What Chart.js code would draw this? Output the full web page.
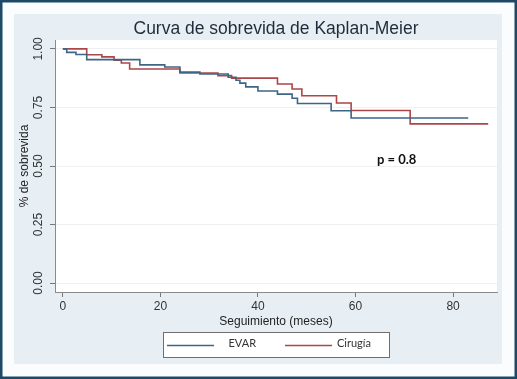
<!DOCTYPE html>
<html>
<head>
<meta charset="utf-8">
<script src="https://cdn.jsdelivr.net/npm/chart.js@4.4.1/dist/chart.umd.min.js"></script>
<style>
  html, body { margin: 0; padding: 0; background: #fff; }
</style>
</head>
<body>
<canvas id="km" width="517" height="379"></canvas>
<script>
// Kaplan-Meier steps (time in months, survival fraction)
const evarTimes = [0, 0.8, 2.7, 4.9, 15.8, 20.9, 24, 28.1, 33.9, 35.5, 36.3, 37.5, 40, 44, 47, 48.1, 55, 59.1, 83.1];
const evarSurv  = [1, 0.985, 0.976, 0.954, 0.932, 0.923, 0.901, 0.893, 0.879, 0.866, 0.854, 0.838, 0.82, 0.807, 0.789, 0.767, 0.736, 0.705, 0.705];

const cirugiaTimes = [0, 4.9, 8, 10.5, 12, 13.7, 24, 31.8, 34.6, 44, 47, 49, 56.1, 59.1, 71.2, 87.2];
const cirugiaSurv  = [1, 0.975, 0.966, 0.952, 0.94, 0.914, 0.897, 0.886, 0.875, 0.85, 0.829, 0.8, 0.769, 0.737, 0.68, 0.68];

const seriesNames = ['EVAR', 'Cirugía'];
const seriesColors = ['#3e6586', '#ab4649'];

const xTickValues = [0, 20, 40, 60, 80];
const yTickValues = [0, 0.25, 0.5, 0.75, 1];

const pLabel = { x: 64.4, y: 0.51, text: 'p = 0.8' };

const toPoints = (times, surv) => times.map((t, i) => ({ x: t, y: surv[i] }));

// panel / frame behind the plot, stata style
const backdrop = {
  id: 'backdrop',
  beforeDraw(chart) {
    const { ctx, chartArea: ca, width, height } = chart;
    ctx.save();
    ctx.fillStyle = '#fbfcfd';
    ctx.fillRect(0, 0, width, height);
    ctx.fillStyle = '#e8eff4';
    ctx.fillRect(14, 14, 488, 350);
    ctx.fillStyle = '#ffffff';
    ctx.fillRect(ca.left, ca.top, ca.right - ca.left, ca.bottom - ca.top);
    ctx.strokeStyle = '#1d4867';
    ctx.lineWidth = 2.5;
    ctx.strokeRect(1.25, 1.25, width - 2.5, height - 2.5);
    ctx.restore();
  }
};

// boxed legend under the axis title + p value note
const extras = {
  id: 'extras',
  afterDraw(chart) {
    const { ctx, chartArea: ca, scales } = chart;
    ctx.save();

    const w = 226, h = 25;
    const left = (ca.left + ca.right) / 2 - w / 2;
    const top = ca.bottom + 40;
    ctx.fillStyle = '#ffffff';
    ctx.fillRect(left, top, w, h);
    ctx.strokeStyle = '#6f6f6f';
    ctx.lineWidth = 1;
    ctx.strokeRect(left + 0.5, top + 0.5, w, h);

    const keyX = [4, 122];
    const textX = [65.5, 174];
    chart.data.datasets.forEach((ds, i) => {
      ctx.strokeStyle = ds.borderColor;
      ctx.lineWidth = 1.3;
      ctx.beginPath();
      ctx.moveTo(left + keyX[i], top + 13.5);
      ctx.lineTo(left + keyX[i] + 47, top + 13.5);
      ctx.stroke();
      ctx.fillStyle = '#333333';
      ctx.font = '11px Lato';
      ctx.textBaseline = 'middle';
      ctx.fillText(ds.label, left + textX[i], top + 11);
    });

    ctx.fillStyle = '#111111';
    ctx.font = 'bold 13px Lato';
    ctx.textBaseline = 'alphabetic';
    ctx.fillText(pLabel.text, scales.x.getPixelForValue(pLabel.x), scales.y.getPixelForValue(pLabel.y));
    ctx.restore();
  }
};

new Chart(document.getElementById('km'), {
  type: 'line',
  data: {
    datasets: [
      {
        label: seriesNames[0],
        data: toPoints(evarTimes, evarSurv),
        borderColor: seriesColors[0],
        borderWidth: 1.6,
        stepped: true,
        pointRadius: 0,
        fill: false
      },
      {
        label: seriesNames[1],
        data: toPoints(cirugiaTimes, cirugiaSurv),
        borderColor: seriesColors[1],
        borderWidth: 1.6,
        stepped: true,
        pointRadius: 0,
        fill: false
      }
    ]
  },
  options: {
    responsive: false,
    animation: false,
    layout: { padding: { left: 14, right: 20, top: 14, bottom: 49 } },
    plugins: {
      legend: { display: false },
      tooltip: { enabled: false },
      title: {
        display: true,
        fullSize: false,
        text: 'Curva de sobrevida de Kaplan-Meier',
        color: '#1f2b3a',
        font: { family: 'Liberation Sans', size: 17.5, weight: 'normal' },
        padding: { top: 5, bottom: 0 }
      }
    },
    scales: {
      x: {
        type: 'linear',
        min: -1.6,
        max: 89,
        afterBuildTicks: s => { s.ticks = xTickValues.map(v => ({ value: v })); },
        afterFit: s => { s.height = 38; },
        grid: { drawOnChartArea: false, tickLength: 5, tickColor: '#777' },
        border: { color: '#8a8a8a' },
        ticks: {
          color: '#333',
          padding: 2,
          maxRotation: 0,
          font: { family: 'Liberation Sans', size: 12 }
        },
        title: {
          display: true,
          text: 'Seguimiento (meses)',
          color: '#222',
          font: { family: 'Liberation Sans', size: 12 },
          padding: { top: 0, bottom: 1 }
        }
      },
      y: {
        min: -0.038,
        max: 1.038,
        afterBuildTicks: s => { s.ticks = yTickValues.map(v => ({ value: v })); },
        afterFit: s => { s.width = 41; },
        grid: { color: '#edf1f4', tickLength: 5, tickColor: '#777' },
        border: { color: '#8a8a8a' },
        ticks: {
          color: '#333',
          padding: 0,
          minRotation: 90,
          maxRotation: 90,
          crossAlign: 'center',
          font: { family: 'Liberation Sans', size: 12 },
          callback: v => v.toFixed(2)
        },
        title: {
          display: true,
          text: '% de sobrevida',
          color: '#222',
          font: { family: 'Liberation Sans', size: 12 },
          padding: { top: 3, bottom: 0 }
        }
      }
    }
  },
  plugins: [backdrop, extras]
});
</script>
</body>
</html>
